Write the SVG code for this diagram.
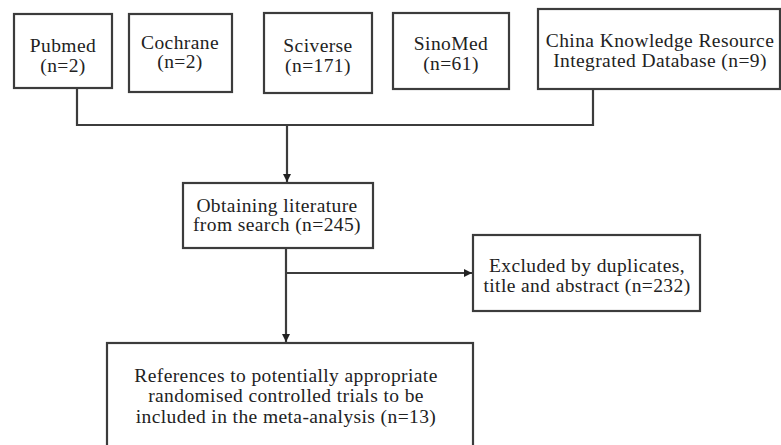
<svg xmlns="http://www.w3.org/2000/svg" width="781" height="445" viewBox="0 0 781 445">
<style>
.box{fill:#fff;stroke:#3c3c3c;stroke-width:2.2}
.t{font-family:"Liberation Serif","Times New Roman",serif;font-size:19.5px;letter-spacing:0.4px;fill:#222;text-anchor:middle}
.c{fill:none;stroke:#3c3c3c;stroke-width:2.2}
</style>
<defs>
<marker id="ah" viewBox="0 0 10 10" refX="10" refY="5" markerWidth="8" markerHeight="8" markerUnits="userSpaceOnUse" orient="auto">
<path d="M0,0 L10,5 L0,10 z" fill="#222"/>
</marker>
</defs>
<rect width="781" height="445" fill="#fff"/>
<g id="connectors">
<polyline class="c" points="77,88 77,125 593,125 593,89"/>
<line class="c" x1="287" y1="125" x2="287" y2="182" marker-end="url(#ah)"/>
<line class="c" x1="286" y1="248" x2="286" y2="342" marker-end="url(#ah)"/>
<line class="c" x1="286" y1="273" x2="472" y2="273" marker-end="url(#ah)"/>
</g>
<g id="pubmed">
<rect class="box" x="14" y="14" width="98" height="74"/>
<text class="t" x="63" y="52">Pubmed</text>
<text class="t" x="63" y="72">(n=2)</text>
</g>
<g id="cochrane">
<rect class="box" x="129" y="14" width="103" height="78"/>
<text class="t" x="180" y="49">Cochrane</text>
<text class="t" x="180" y="68">(n=2)</text>
</g>
<g id="sciverse">
<rect class="box" x="264" y="13" width="108" height="80"/>
<text class="t" x="318" y="52">Sciverse</text>
<text class="t" x="318" y="72">(n=171)</text>
</g>
<g id="sinomed">
<rect class="box" x="393" y="13" width="116" height="76"/>
<text class="t" x="451" y="50">SinoMed</text>
<text class="t" x="451" y="70">(n=61)</text>
</g>
<g id="cnki">
<rect class="box" x="538" y="9" width="242" height="80"/>
<text class="t" x="660" y="47">China Knowledge Resource</text>
<text class="t" x="660" y="67">Integrated Database (n=9)</text>
</g>
<g id="obtaining">
<rect class="box" x="183" y="183" width="190" height="65"/>
<text class="t" x="277" y="212">Obtaining literature</text>
<text class="t" x="277" y="231">from search (n=245)</text>
</g>
<g id="excluded">
<rect class="box" x="473" y="235" width="227" height="76"/>
<text class="t" x="587" y="272">Excluded by duplicates,</text>
<text class="t" x="587" y="292">title and abstract (n=232)</text>
</g>
<g id="included">
<rect class="box" x="107" y="343" width="366" height="110"/>
<text class="t" x="286" y="382">References to potentially appropriate</text>
<text class="t" x="286" y="402">randomised controlled trials to be</text>
<text class="t" x="286" y="423">included in the meta-analysis (n=13)</text>
</g>
</svg>
